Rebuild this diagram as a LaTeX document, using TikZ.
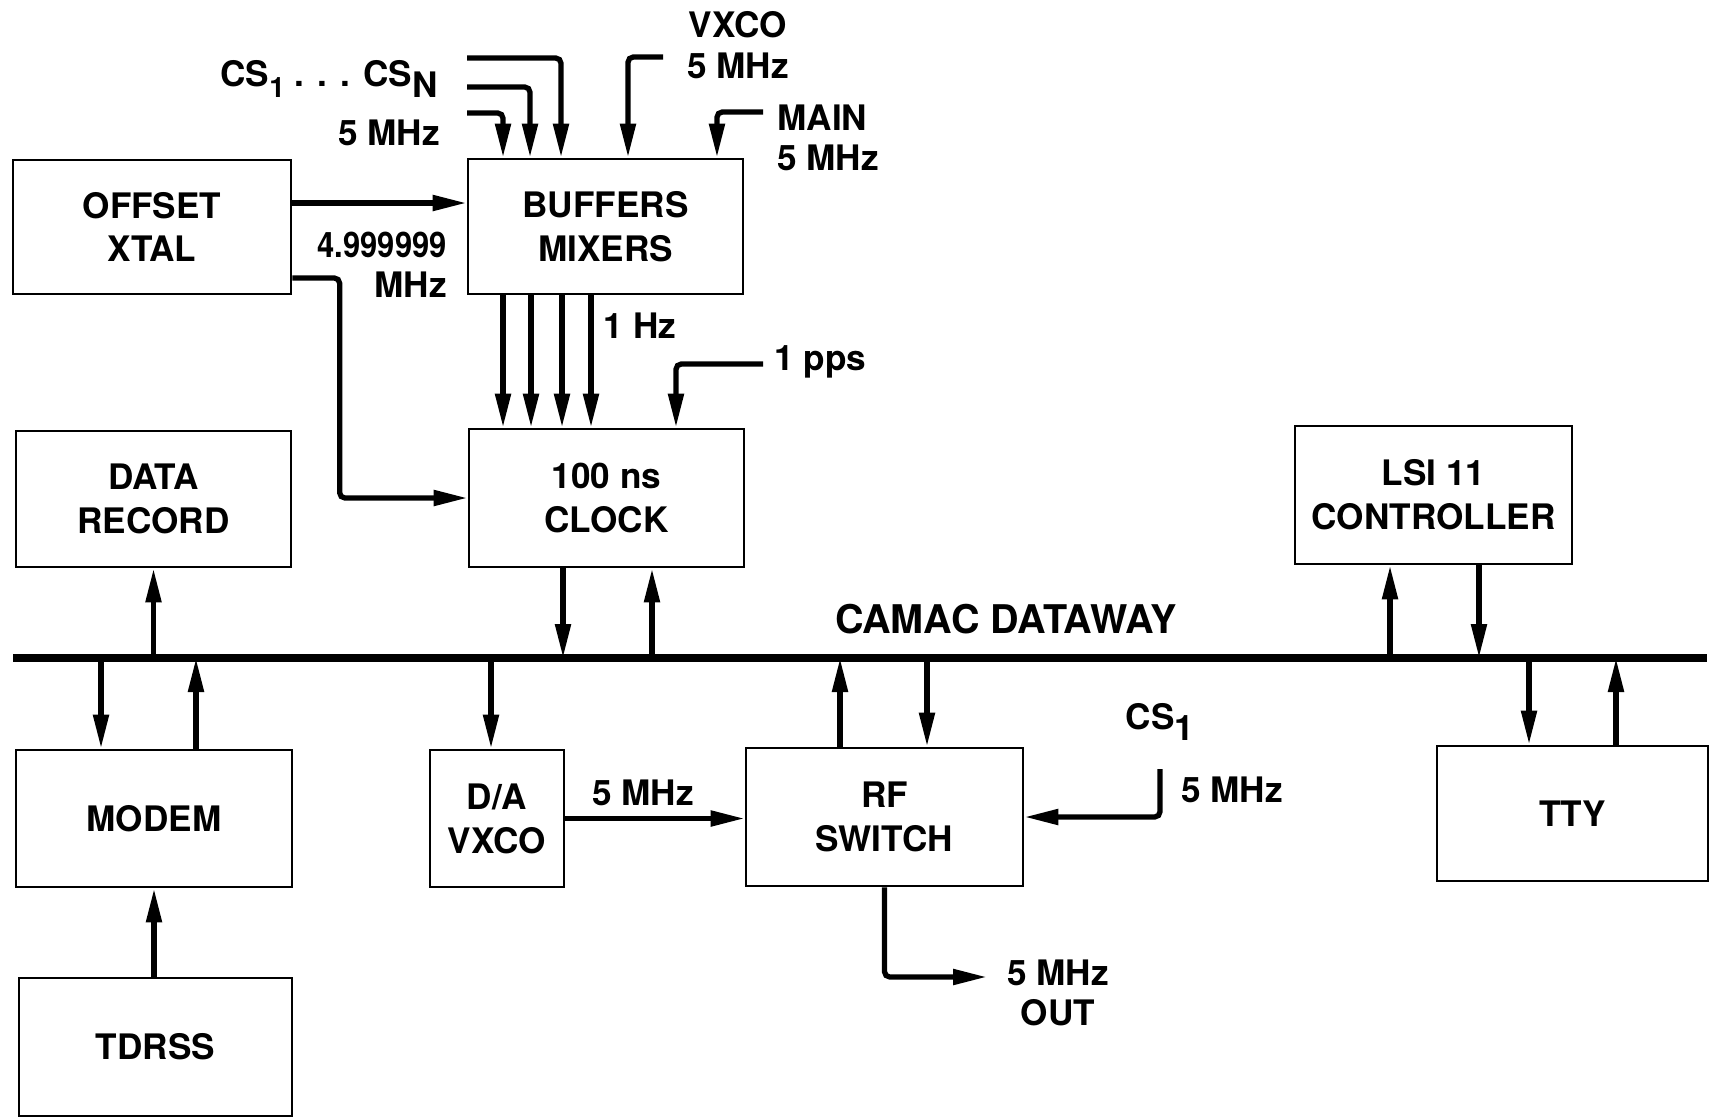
\documentclass[tikz,border=0pt]{standalone}
\usepackage{fontspec}
\setmainfont{TeX Gyre Heros}
\usetikzlibrary{arrows.meta,calc}
\newcommand{\lowix}[1]{\raisebox{-0.55ex}{#1}}
\begin{document}
\begin{tikzpicture}[x=0.02cm, y=-0.02cm, >={Triangle[length=0.68cm,width=0.3cm]},
  box/.style={draw, line width=1.6pt, align=center, inner sep=0pt, font=\fontsize{20}{25}\selectfont\bfseries},
  sig/.style={->, line width=3pt, rounded corners=3pt},
  lbl/.style={font=\fontsize{20}{23}\selectfont\bfseries, inner sep=0pt, align=center}]
\useasboundingbox (0,0) rectangle (1710,1119);
% Blocos
\node[box, minimum width=5.56cm, minimum height=2.68cm] (offset) at (152,227) {OFFSET\\XTAL};
\node[box, minimum width=5.50cm, minimum height=2.70cm] (buffers) at (605.5,226.5) {BUFFERS\\MIXERS};
\node[box, minimum width=5.50cm, minimum height=2.72cm] (record) at (153.5,499) {DATA\\RECORD};
\node[box, minimum width=5.50cm, minimum height=2.76cm] (clock) at (606.5,498) {100 ns\\CLOCK};
\node[box, minimum width=5.54cm, minimum height=2.76cm] (lsi) at (1433.5,495) {LSI 11\\CONTROLLER};
\node[box, minimum width=5.52cm, minimum height=2.74cm] (modem) at (154,818.5) {MODEM};
\node[box, minimum width=2.68cm, minimum height=2.74cm] (davxco) at (497,818.5) {D/A\\VXCO};
\node[box, minimum width=5.54cm, minimum height=2.76cm] (rf) at (884.5,817) {RF\\SWITCH};
\node[box, minimum width=5.42cm, minimum height=2.70cm] (tty) at (1572.5,813.5) {TTY};
\node[box, minimum width=5.46cm, minimum height=2.76cm] (tdrss) at (155.5,1047) {TDRSS};
% Barramento CAMAC
\coordinate (busL) at (13,658);
\coordinate (busR) at (1707,658);
\draw[line width=4pt] (busL) -- (busR);
\node[lbl, font=\fontsize{22.5}{25}\selectfont\bfseries] (camac) at (1006,619) {CAMAC DATAWAY};
% Entradas dos buffers
\coordinate (csA) at (467,58);
\coordinate (csB) at (467,87);
\coordinate (csC) at (467,113);
\coordinate (vxcoin) at (663,57);
\coordinate (mainin) at (763,112);
\draw[sig] (csA) -| ([xshift=-0.89cm]buffers.north);
\draw[sig] (csB) -| ([xshift=-1.51cm]buffers.north);
\draw[sig] (csC) -| ([xshift=-2.05cm]buffers.north);
\draw[sig] (vxcoin) -| ([xshift=0.45cm]buffers.north);
\draw[sig] (mainin) -| ([xshift=2.23cm]buffers.north);
\node[lbl] (csrange) at (329,79) {CS\lowix{\fontsize{16}{16}\selectfont 1} . . . CS\lowix{N}};
\node[lbl, anchor=east] (csfreq) at (440,133) {5 MHz};
\node[lbl] (vxcolbl) at (738,45) {VXCO\\5 MHz};
\node[lbl, align=left, anchor=west] (mainlbl) at (777,138) {MAIN\\5 MHz};
% Cristal de offset
\draw[sig] ([yshift=0.48cm]offset.east) -- ([yshift=0.48cm]offset.east -| buffers.west);
\draw[sig] ([yshift=-1.02cm]offset.east) -| ([xshift=-2.56cm]clock.west) -- (clock.west);
\node[lbl, align=right, anchor=east] (offfreq) at (447,265) {\scalebox{0.88}[1]{4.999999}\\MHz};
% Buffers para o relogio
\foreach \s in {-2.05,-1.49,-0.87,-0.29}
  \draw[sig] ([xshift=\s cm]buffers.south) -- ([xshift=\s cm]buffers.south |- clock.north);
\node[lbl] (onehz) at (640,326) {1 Hz};
\coordinate (ppsin) at (763,364);
\draw[sig] (ppsin) -| ([xshift=1.39cm]clock.north);
\node[lbl, anchor=west] (ppslbl) at (774,362) {1 pps};
% Ligacoes ao barramento
\draw[sig] ([xshift=-0.87cm]clock.south) -- ([xshift=-0.87cm]clock.south |- busL);
\draw[sig] ([xshift=0.91cm]clock.south |- busL) -- ([xshift=0.91cm]clock.south);
\draw[sig] (record.south |- busL) -- (record.south);
\draw[sig] ([xshift=-1.06cm]modem.north |- busL) -- ([xshift=-1.06cm]modem.north);
\draw[sig] ([xshift=0.84cm]modem.north) -- ([xshift=0.84cm]modem.north |- busL);
\draw[sig] (modem.south |- tdrss.north) -- (modem.south);
\draw[sig] ([xshift=-0.12cm]davxco.north |- busL) -- ([xshift=-0.12cm]davxco.north);
\draw[sig] ([xshift=-0.89cm]rf.north) -- ([xshift=-0.89cm]rf.north |- busL);
\draw[sig] ([xshift=0.85cm]rf.north |- busL) -- ([xshift=0.85cm]rf.north);
\draw[sig] ([xshift=-0.87cm]lsi.south |- busL) -- ([xshift=-0.87cm]lsi.south);
\draw[sig] ([xshift=0.91cm]lsi.south) -- ([xshift=0.91cm]lsi.south |- busL);
\draw[sig] ([xshift=-0.87cm]tty.north |- busL) -- ([xshift=-0.87cm]tty.north);
\draw[sig] ([xshift=0.87cm]tty.north) -- ([xshift=0.87cm]tty.north |- busL);
% Chave de RF
\draw[sig] (davxco.east) -- (davxco.east -| rf.west);
\node[lbl] (dafreq) at (643,793) {5 MHz};
\coordinate (csone) at (1160,769);
\draw[sig] (csone) |- (rf.east);
\node[lbl] (cslbl) at (1160,722) {CS\lowix{1}};
\node[lbl] (csonefreq) at (1232,790) {5 MHz};
\coordinate (rfout) at (987,977);
\draw[sig] (rf.south) |- (rfout);
\node[lbl] (outlbl) at (1058,993) {5 MHz\\OUT};
\end{tikzpicture}
\end{document}
